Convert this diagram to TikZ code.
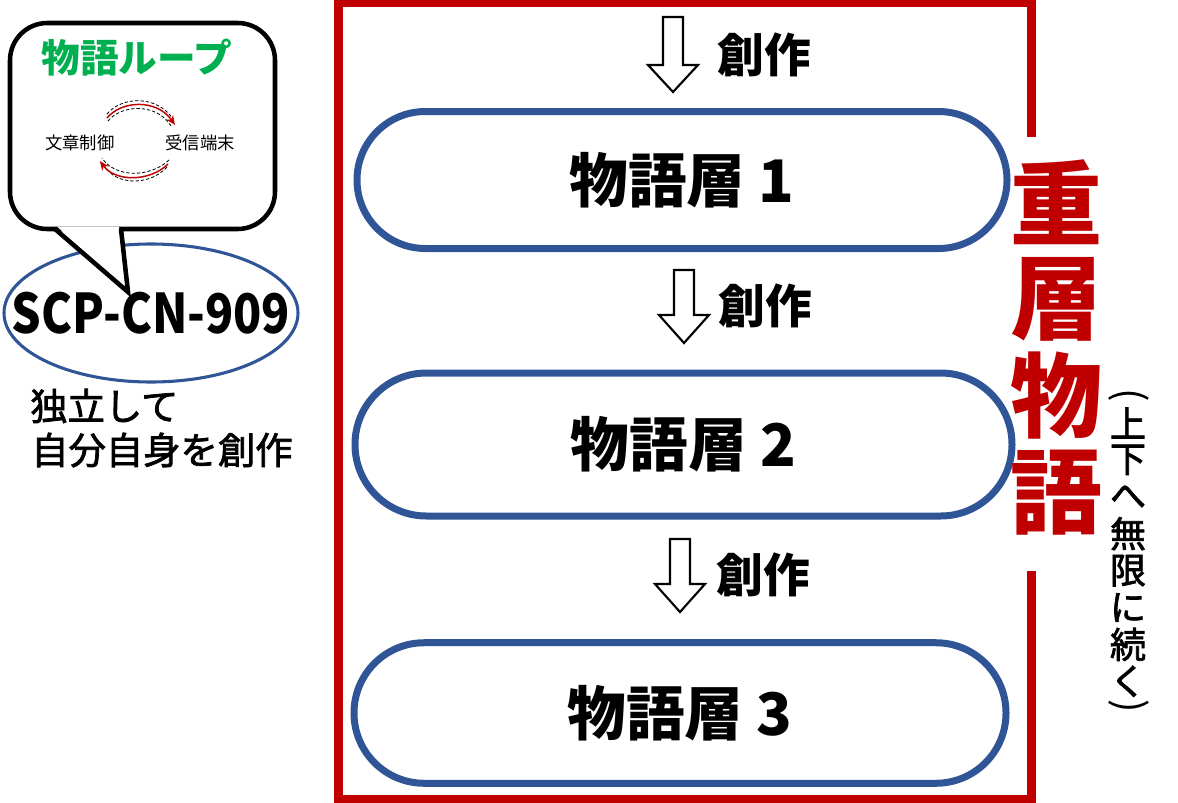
\documentclass[tikz,border=0pt]{standalone}
\usepackage{fontspec}
\setmainfont{Noto Sans CJK JP}
\newfontfamily\jpmed[FakeBold=2]{Noto Sans CJK JP}
\usetikzlibrary{arrows.meta,shapes.geometric}
\definecolor{fred}{HTML}{C00000}
\definecolor{fblue}{HTML}{2F5597}
\definecolor{fgreen}{HTML}{00B050}
\newcommand\hollowarrow[4]{%
  \draw[harrow] (#1-10,#2) -- (#1+10,#2) -- (#1+10,#3) -- (#1+25,#3) -- (#1,#4) -- (#1-25,#3) -- (#1-10,#3) -- cycle;}
\begin{document}
\begin{tikzpicture}[x=0.75pt,y=-0.75pt,
  stadium/.style={draw=fblue, line width=5.25pt, inner sep=0pt,
    font=\fontsize{44}{54}\selectfont\bfseries},
  harrow/.style={draw=black, fill=white, line width=1.6pt, line join=miter},
  makelabel/.style={font=\fontsize{35}{40}\selectfont\bfseries, inner sep=0pt},
  bubble/.style={draw=black, fill=white, line width=3.4pt},
  loopred/.style={draw=fred, line width=1.1pt, -{Stealth[length=7pt,width=6pt]}},
  loopdash/.style={draw=black, line width=0.6pt, dash pattern=on 2.5pt off 1.5pt},
  vsmall/.style={font=\fontsize{27}{30}\selectfont\jpmed, inner sep=0pt},
  vparen/.style={font=\fontsize{30}{30}\selectfont, inner sep=0pt, rotate=-90},
  vbig/.style={font=\fontsize{69}{73}\selectfont\bfseries, text=fred, inner sep=0pt}]
\useasboundingbox (0,0) rectangle (1178,803);

% red frame
\draw[fred, line width=6.4pt, line join=miter] (1031.5,137) -- (1031.5,2.5) -- (338.5,2.5) -- (338.5,799) -- (1031.5,799) -- (1031.5,571);

% layers
\node[stadium, minimum width=487.5pt, minimum height=102.75pt, rounded corners=51.3pt] (layer1) at (682,180) {物語層 1};
\node[stadium, minimum width=492.75pt, minimum height=107.25pt, rounded corners=53.5pt] (layer2) at (683.5,444.5) {物語層 2};
\node[stadium, minimum width=489pt, minimum height=105.4pt, rounded corners=52.6pt] (layer3) at (680,713) {物語層 3};

% hollow arrows and labels
\hollowarrow{673}{17}{65}{92}
\hollowarrow{684}{270}{315}{343}
\hollowarrow{680}{539}{584}{612}
\node[makelabel] (c1) at (764,55) {創作};
\node[makelabel] (c2) at (765,306) {創作};
\node[makelabel] (c3) at (763,575) {創作};

% vertical titles
\foreach \c [count=\i] in {重,層,物,語}
  \node[vbig] (v\i) at (1056,{202+97*(\i-1)}) {\c};
\node[vparen] (p1) at (1129,395) {(};
\foreach \c [count=\i] in {上,下,へ,無,限,に,続,く}
  \node[vsmall] (s\i) at (1128,{423+36.9*(\i-1)}) {\c};
\node[vparen] (p2) at (1129,706) {)};

% left: ellipse
\node[ellipse, draw=fblue, line width=2.3pt, minimum width=220.5pt, minimum height=103.5pt, inner sep=0pt] (scpshape) at (151,313) {};
\node[font=\fontsize{41}{48}\selectfont\bfseries, inner sep=0pt] (scp) at (151,313) {\scalebox{0.85}[1]{SCP-CN-909}};

% bubble
\draw[bubble, rounded corners=28pt] (10,23) rectangle (275,229);
\fill[white] (57,226.5) -- (119,226.5) -- (126,290) -- cycle;
\draw[black, line width=3.4pt, line join=miter] (55,229) -- (128,292) -- (121,229);

\node[font=\fontsize{29}{34}\selectfont\bfseries, text=fgreen, inner sep=0pt] (title) at (137,58) {物語ループ};
\node[font=\fontsize{13}{15}\selectfont, inner sep=0pt] (ctrl) at (80,143) {文章制御};
\node[font=\fontsize{13}{15}\selectfont, inner sep=0pt] (term) at (200,143) {受信端末};

% loop arrows
\draw[loopdash] (107,114) .. controls (122,96) and (157,95) .. (173,119);
\draw[loopdash] (108,121) .. controls (122,104) and (157,103) .. (171,126);
\draw[loopred] (107,118) .. controls (122,100) and (157,99) .. (175,125);
\draw[loopdash] (169,160) .. controls (150,178) and (115,178) .. (102,158);
\draw[loopdash] (167,167) .. controls (150,186) and (115,186) .. (104,165);
\draw[loopred] (168,164) .. controls (150,182) and (115,182) .. (100,161);

% caption under ellipse
\node[anchor=west, font=\fontsize{28}{34}\selectfont\jpmed, inner sep=0pt] (cap1) at (30,406) {独立して};
\node[anchor=west, font=\fontsize{28}{34}\selectfont\jpmed, inner sep=0pt] (cap2) at (31,450) {自分自身を創作};
\end{tikzpicture}
\end{document}
